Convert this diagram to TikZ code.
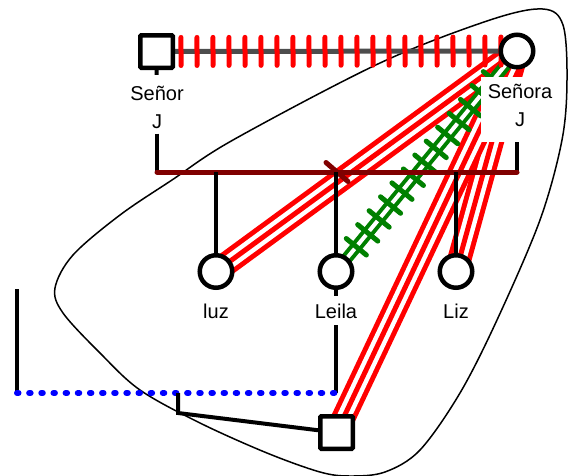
\documentclass[tikz,border=0pt]{standalone}
\usepackage{fontspec}
\setmainfont{Liberation Sans}
\usetikzlibrary{decorations.markings}

\definecolor{bandred}{RGB}{255,0,0}
\definecolor{linkgreen}{RGB}{0,128,0}
\definecolor{unionGray}{RGB}{77,77,77}
\definecolor{maroonline}{RGB}{128,0,0}
\definecolor{dotblue}{RGB}{0,0,255}

\pgfdeclarelayer{enclosurelayer}
\pgfdeclarelayer{bandlayer}
\pgfdeclarelayer{linelayer}
\pgfsetlayers{enclosurelayer,bandlayer,linelayer,main}

\begin{document}
\begin{tikzpicture}[x=1pt,y=-1pt,
  person/.style={draw=black, line width=4.5pt, fill=white, inner sep=0pt, minimum size=32.5pt},
  male/.style={person, rectangle, rounded corners=1pt},
  female/.style={person, circle},
  namelbl/.style={fill=white, inner sep=7pt, font=\fontsize{20}{28}\selectfont, align=center},
  kinline/.style={draw=black, line width=4pt},
  hostile/.style={draw=bandred, line width=24pt,
    postaction={draw=white, line width=14pt},
    postaction={draw=bandred, line width=5pt}},
  closehostile/.style={draw=linkgreen, line width=12pt,
    postaction={draw=white, line width=4pt},
    postaction={decorate, decoration={markings,
      mark=between positions 32pt and -20pt step 18pt with
      {\draw[linkgreen, line width=5pt, line cap=round] (0,-13pt) -- (0,13pt);}}}},
  unionline/.style={draw=unionGray, line width=5pt,
    postaction={decorate, decoration={markings,
      mark=between positions 24.5pt and 345pt step 16pt with
      {\draw[bandred, line width=5pt, line cap=round] (0,-14pt) -- (0,14pt);}}}},
  sibline/.style={draw=maroonline, line width=5pt, line cap=round,
    postaction={decorate, decoration={markings,
      mark=at position 0.5 with
      {\draw[maroonline, line width=5pt, line cap=round] (-11pt,9.5pt) -- (11pt,-9.5pt);}}}},
  dotted link/.style={draw=dotblue, line width=6pt, line cap=round, dash pattern=on 1.5pt off 10.65pt},
  enclosure/.style={draw=black, line width=1.5pt}
]
\useasboundingbox (0,0) rectangle (568,475);

% people
\node[male]   (senor)  at (156.5,51.5) {};
\node[female] (senora) at (517,51) {};
\node[female] (luz)    at (216,271.5) {};
\node[female] (leila)  at (336,271.5) {};
\node[female] (liz)    at (456,271.5) {};
\node[male]   (child)  at (336.5,432.5) {};

% names
\node[namelbl, inner sep=5pt, anchor=north] (senorlbl) at (157,75) {\rule{0pt}{20pt}Señor\\J};
\node[namelbl, inner xsep=4pt, inner ysep=6pt, minimum width=78pt, anchor=north] (senoralbl) at (520,77)
  {\rule{0pt}{15pt}Señora\\J\rule[-10pt]{0pt}{10pt}};
\node[namelbl, anchor=base] (luzlbl)   at (216,318) {luz};
\node[namelbl, anchor=base] (leilalbl) at (336,318) {Leila};
\node[namelbl, anchor=base] (lizlbl)   at (456,318) {Liz};

% helper points
\coordinate (mL) at (157,172);
\coordinate (mR) at (517,172);
\coordinate (le) at (336,393);
\coordinate (lf) at (17,393);
\coordinate (lt) at (17,289);
\coordinate (kn) at (178,393);
\coordinate (kb) at (178,413);

\begin{pgfonlayer}{enclosurelayer}
  \draw[enclosure] plot[smooth cycle, tension=0.55] coordinates {
    (543,9) (563,25) (567,80) (562,140) (540,220) (497,320) (460,393)
    (420,450) (385,472) (350,476) (320,472) (267,453) (200,423) (140,390)
    (100,353) (63,313) (55,288) (73,255) (120,215) (172,180) (233,140)
    (380,63) (490,20)};
\end{pgfonlayer}

\begin{pgfonlayer}{bandlayer}
  \draw[hostile] (senora.center) -- (luz.center);
  \draw[hostile] (senora.center) -- (liz.center);
  \draw[hostile] (senora.center) -- (child.center);
  \draw[closehostile] (leila.center) -- (senora.center);
\end{pgfonlayer}

\begin{pgfonlayer}{linelayer}
  \draw[unionline] (senor.center) -- (senora.center);
  \draw[kinline] (senor) -- (senorlbl);
  \draw[kinline] (senorlbl.south) -- (mL);
  \draw[kinline] (senoralbl.south -| senora.center) -- (mR);
  \draw[sibline] (mL) -- (mR);
  \draw[kinline] (luz |- mL) -- (luz);
  \draw[kinline] (leila |- mL) -- (leila);
  \draw[kinline] (liz |- mL) -- (liz);
  \draw[kinline] (leila) -- (leilalbl);
  \draw[kinline] (leilalbl.south) -- (le);
  \draw[kinline] (lt) -- (lf);
  \draw[dotted link] (lf) -- (le);
  \draw[kinline] (kn) -- (kb) -- (child);
\end{pgfonlayer}
\end{tikzpicture}
\end{document}
